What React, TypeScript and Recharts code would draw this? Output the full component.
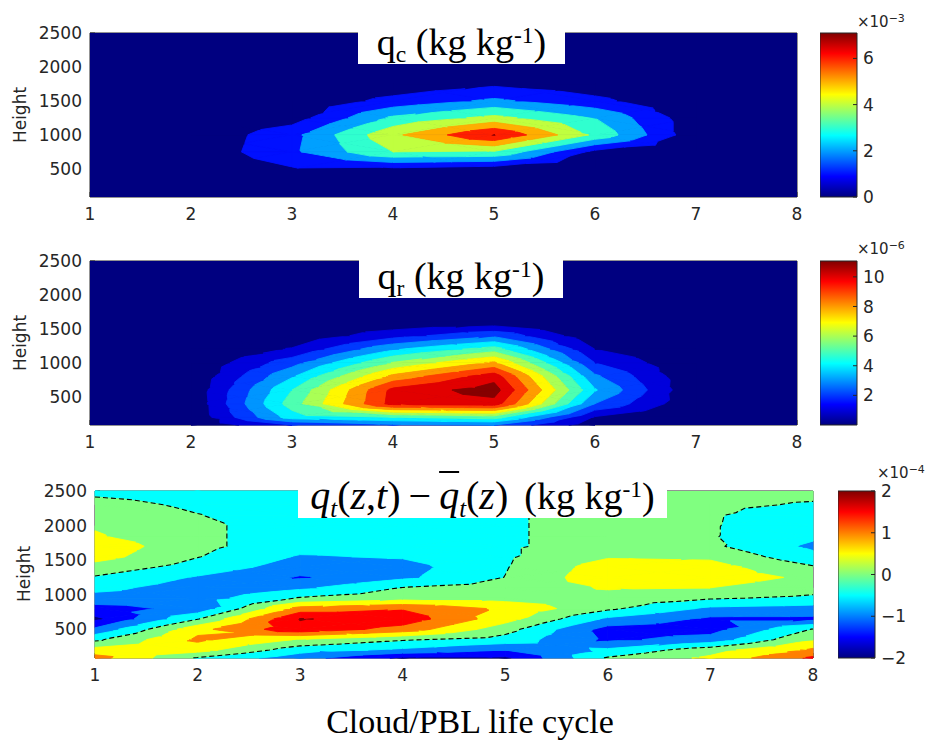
import React, { useMemo } from "react";
import { ScatterChart, Scatter, XAxis, YAxis, BarChart, Bar } from "recharts";

const lifeCycle = [1, 2, 3, 4, 5, 6, 7, 8];
const heightTicks = [500, 1000, 1500, 2000, 2500];
const heightDomain = [85, 2500];

// q_c (x1e-3 kg/kg): one row per height, one column per life-cycle stage
const qcHeights = [85, 250, 500, 750, 1000, 1250, 1500, 1750, 2000, 2250, 2500];
const qcGrid = [
  [0, 0, 0, 0, 0, 0, 0, 0],
  [0, 0, 0.2, 0.1, 0.1, 0, 0, 0],
  [0, 0.1, 0.9, 0.8, 0.5, 0.1, 0, 0],
  [0, 0.2, 1.8, 4.0, 3.9, 0.7, 0.1, 0],
  [0, 0.1, 1.7, 4.78, 7.05, 3.8, 0.3, 0],
  [0, 0, 0.5, 3.2, 4.3, 3.0, 0.3, 0],
  [0, 0, 0.2, 1.3, 2.2, 1.25, 0.1, 0],
  [0, 0, 0, 0.3, 0.8, 0.4, 0, 0],
  [0, 0, 0, 0, 0.1, 0, 0, 0],
  [0, 0, 0, 0, 0, 0, 0, 0],
  [0, 0, 0, 0, 0, 0, 0, 0],
];
const qcLevels = [0, 1, 2, 3, 4, 5, 6, 7];
const qcColorRange = [0, 7.1];
const qcColorTicks = [0, 2, 4, 6];

// q_r (x1e-6 kg/kg)
const qrHeights = [85, 200, 400, 600, 800, 1000, 1200, 1400, 1600, 1800, 2000, 2250, 2500];
const qrGrid = [
  [0, 0.1, 2.0, 2.8, 3.0, 0.3, 0.05, 0],
  [0, 0.1, 4.5, 5.0, 5.5, 0.9, 0.05, 0],
  [0, 0.14, 5.5, 10.4, 10.6, 3.0, 0.1, 0],
  [0, 0.2, 5.0, 10.3, 11.5, 4.1, 0.05, 0],
  [0, 0.1, 3.9, 8.3, 10.6, 3.2, 0.1, 0],
  [0, 0, 2.6, 6.1, 8.2, 2.0, 0.05, 0],
  [0, 0, 1.1, 3.9, 5.5, 1.0, 0, 0],
  [0, 0, 0.2, 1.6, 2.8, 0.2, 0, 0],
  [0, 0, 0, 0.2, 0.3, 0, 0, 0],
  [0, 0, 0, 0, 0, 0, 0, 0],
  [0, 0, 0, 0, 0, 0, 0, 0],
  [0, 0, 0, 0, 0, 0, 0, 0],
  [0, 0, 0, 0, 0, 0, 0, 0],
];
const qrLevels = [0, 1, 2, 3, 4, 5, 6, 7, 8, 9, 10, 11];
const qrColorRange = [0, 11.07];
const qrColorTicks = [2, 4, 6, 8, 10];

// q_t anomaly (x1e-4 kg/kg)
const qtHeights = [85, 200, 350, 500, 650, 800, 950, 1100, 1250, 1400, 1550, 1700, 1850, 2000, 2150, 2300, 2500];
const qtGrid = [
  [1.2, -0.05, -0.8, -1.6, -1.6, 0.05, 0.6, 1.6],
  [0.7, 0.7, -0.3, -0.6, -1.0, -0.4, 0.3, 1.1],
  [-0.1, 1.1, 0.45, 0.05, -0.2, -1.1, -0.8, 0.5],
  [-0.9, 0.85, 1.85, 1.3, 0.2, -1.2, -1.2, 0.03],
  [-1.6, -0.03, 2.03, 1.8, 0.7, -0.6, -1.1, -1.1],
  [-1.2, -0.85, 1.2, 1.45, 0.9, 0.1, -0.6, -0.7],
  [-0.7, -0.75, 0.05, 0.3, 0.3, 0.3, 0.05, -0.1],
  [-0.35, -0.75, -0.6, 0.02, 0.2, 0.55, 0.5, 0.2],
  [-0.05, -0.55, -1.05, -0.6, 0.01, 0.85, 0.75, 0.4],
  [0.3, -0.2, -0.75, -0.7, -0.03, 0.75, 0.7, 0.05],
  [0.7, 0.02, -0.55, -0.45, -0.06, 0.45, 0.4, -0.35],
  [0.85, 0.12, -0.3, -0.3, -0.06, 0.2, 0.1, -0.6],
  [0.55, 0.12, -0.3, -0.3, -0.06, 0.2, 0.04, -0.4],
  [0.45, 0.12, -0.3, -0.3, -0.06, 0.2, 0.04, -0.35],
  [0.35, 0.02, -0.3, -0.3, -0.06, 0.2, 0.05, -0.3],
  [0.2, -0.1, -0.3, -0.3, -0.06, 0.2, 0.1, -0.05],
  [-0.15, -0.25, -0.3, -0.3, -0.06, 0.2, 0.15, 0.15],
];
const qtLevels = [-2, -1.5, -1, -0.5, 0, 0.5, 1, 1.5, 2];
const qtColorRange = [-2, 2];
const qtColorTicks = [-2, -1, 0, 1, 2];

const axisColor = "#262626";
const tickFont = { fill: axisColor, fontSize: 17, fontFamily: "DejaVu Sans" };
const serif = "'Liberation Serif', 'Times New Roman', serif";

function jet(t: number) {
  const u = Math.max(0, Math.min(1, t));
  const ch = (v: number) => Math.round(255 * Math.max(0, Math.min(1, v)));
  return `rgb(${ch(1.5 - Math.abs(4 * u - 3))},${ch(1.5 - Math.abs(4 * u - 2))},${ch(1.5 - Math.abs(4 * u - 1))})`;
}

type V = [number, number, number];
type Piece = { pts: number[][]; color: string; line: boolean };

function clip(poly: V[], t: number, above: boolean): V[] {
  const out: V[] = [];
  for (let k = 0; k < poly.length; k++) {
    const P = poly[k];
    const Q = poly[(k + 1) % poly.length];
    const pin = above ? P[2] >= t : P[2] <= t;
    const qin = above ? Q[2] >= t : Q[2] <= t;
    if (pin) out.push(P);
    if (pin !== qin) {
      const f = (t - P[2]) / (Q[2] - P[2]);
      out.push([P[0] + f * (Q[0] - P[0]), P[1] + f * (Q[1] - P[1]), t]);
    }
  }
  return out;
}

// filled contours: split each grid cell into 4 triangles, clip each into level bands
function contourPieces(xs: number[], ys: number[], grid: number[][], levels: number[], range: number[], zeroLine: boolean) {
  const bands = levels.map((lo, k) => ({
    lo: k === 0 ? -Infinity : lo,
    hi: k === levels.length - 1 ? Infinity : levels[k + 1],
    color: jet((lo - range[0]) / (range[1] - range[0])),
  }));
  const pieces: Piece[] = [];
  // backdrop in the colour of the most common band hides seams between triangles
  const counts = bands.map(() => 0);
  grid.flat().forEach((v) => {
    const k = bands.findIndex((b) => v >= b.lo && v < b.hi);
    if (k >= 0) counts[k]++;
  });
  const common = bands[counts.indexOf(Math.max(...counts))];
  const x0 = xs[0], x1 = xs[xs.length - 1], y0 = ys[0], y1 = ys[ys.length - 1];
  pieces.push({ pts: [[x0, y0], [x1, y0], [x1, y1], [x0, y1]], color: common.color, line: false });

  const segs: { k1: string; k2: string }[] = [];
  const ptByKey = new Map<string, number[]>();

  for (let i = 0; i < ys.length - 1; i++) {
    for (let j = 0; j < xs.length - 1; j++) {
      const a: V = [xs[j], ys[i], grid[i][j]];
      const b: V = [xs[j + 1], ys[i], grid[i][j + 1]];
      const c: V = [xs[j + 1], ys[i + 1], grid[i + 1][j + 1]];
      const d: V = [xs[j], ys[i + 1], grid[i + 1][j]];
      const m: V = [(a[0] + b[0]) / 2, (a[1] + d[1]) / 2, (a[2] + b[2] + c[2] + d[2]) / 4];
      const id = [`${i},${j}`, `${i},${j + 1}`, `${i + 1},${j + 1}`, `${i + 1},${j}`, `m${i},${j}`];
      const tris: [V[], string[]][] = [
        [[a, b, m], [id[0], id[1], id[4]]],
        [[b, c, m], [id[1], id[2], id[4]]],
        [[c, d, m], [id[2], id[3], id[4]]],
        [[d, a, m], [id[3], id[0], id[4]]],
      ];
      for (const [tri, ids] of tris) {
        const vmin = Math.min(tri[0][2], tri[1][2], tri[2][2]);
        const vmax = Math.max(tri[0][2], tri[1][2], tri[2][2]);
        for (const band of bands) {
          if (vmax < band.lo || vmin > band.hi) continue;
          if (band === common && vmin >= band.lo && vmax < band.hi) continue;
          const poly = clip(clip(tri, band.lo, true), band.hi, false);
          if (poly.length >= 3) pieces.push({ pts: poly.map((p) => [p[0], p[1]]), color: band.color, line: false });
        }
        if (zeroLine) {
          const keys: string[] = [];
          for (let e = 0; e < 3; e++) {
            const P = tri[e];
            const Q = tri[(e + 1) % 3];
            if (P[2] < 0 !== Q[2] < 0) {
              const f = -P[2] / (Q[2] - P[2]);
              const key = [ids[e], ids[(e + 1) % 3]].sort().join("|");
              ptByKey.set(key, [P[0] + f * (Q[0] - P[0]), P[1] + f * (Q[1] - P[1])]);
              keys.push(key);
            }
          }
          if (keys.length === 2) segs.push({ k1: keys[0], k2: keys[1] });
        }
      }
    }
  }

  if (zeroLine) {
    const byKey = new Map<string, number[]>();
    segs.forEach((s, ix) => {
      [s.k1, s.k2].forEach((k) => {
        if (!byKey.has(k)) byKey.set(k, []);
        byKey.get(k)!.push(ix);
      });
    });
    const used = segs.map(() => false);
    const extend = (arr: string[]) => {
      for (;;) {
        const last = arr[arr.length - 1];
        const next = (byKey.get(last) || []).find((ix) => !used[ix]);
        if (next === undefined) break;
        used[next] = true;
        const s = segs[next];
        arr.push(s.k1 === last ? s.k2 : s.k1);
      }
    };
    segs.forEach((s, ix) => {
      if (used[ix]) return;
      used[ix] = true;
      const fwd = [s.k1, s.k2];
      extend(fwd);
      const back = [s.k1];
      extend(back);
      const chain = back.reverse().concat(fwd.slice(1));
      pieces.push({ pts: chain.map((k) => ptByKey.get(k)!), color: "#000", line: true });
    });
  }
  return pieces;
}

function drawPieces(props: any, pieces: Piece[]) {
  const pts = props.points || [];
  const fills: React.ReactNode[] = [];
  const lines: React.ReactNode[] = [];
  let k = 0;
  pieces.forEach((pc, idx) => {
    let d = "";
    pc.pts.forEach((_, i) => {
      const p = pts[k + i];
      if (p) d += (i ? "L" : "M") + p.x.toFixed(2) + "," + p.y.toFixed(2);
    });
    k += pc.pts.length;
    if (pc.line) {
      lines.push(<path key={idx} d={d} fill="none" stroke="#000" strokeWidth={1.1} strokeDasharray="5 3" />);
    } else {
      fills.push(<path key={idx} d={d + "Z"} fill={pc.color} stroke={pc.color} strokeWidth={idx === 0 ? 0 : 0.9} strokeLinejoin="round" />);
    }
  });
  return (
    <g>
      {fills}
      {lines}
    </g>
  );
}

function ContourPanel({ heights, grid, levels, range, zeroLine, plotLeft, plotTop, plotRight, plotBottom }: any) {
  const pieces = useMemo(() => contourPieces(lifeCycle, heights, grid, levels, range, zeroLine), []);
  const points = pieces.flatMap((pc) => pc.pts.map(([x, y]) => ({ x, y })));
  const plotHeight = plotBottom - plotTop;
  return (
    <div style={{ position: "absolute", left: 0, top: plotTop - 20 }}>
      <ScatterChart width={plotRight + 20} height={plotHeight + 60} margin={{ top: 0, right: 0, bottom: 0, left: 0 }}>
        <Scatter
          data={points}
          isAnimationActive={false}
          shape={() => <g />}
          line={(p: any) => drawPieces(p, pieces)}
          lineType="joint"
        />
        <XAxis
          type="number"
          dataKey="x"
          domain={[1, 8]}
          ticks={lifeCycle}
          height={40}
          tickSize={-5}
          tickMargin={16}
          stroke={axisColor}
          tick={tickFont}
          interval={0}
        />
        <XAxis xAxisId="top" orientation="top" type="number" dataKey="x" domain={[1, 8]} ticks={lifeCycle} height={20} tickSize={-5} tick={false} stroke={axisColor} />
        <YAxis
          type="number"
          dataKey="y"
          domain={heightDomain}
          ticks={heightTicks}
          width={plotLeft}
          tickSize={-5}
          tickMargin={13}
          stroke={axisColor}
          tick={tickFont}
          interval={0}
        />
        <YAxis yAxisId="right" orientation="right" type="number" dataKey="y" domain={heightDomain} ticks={heightTicks} width={20} tickSize={-5} tick={false} stroke={axisColor} />
      </ScatterChart>
    </div>
  );
}

const jetStops = [0, 0.125, 0.375, 0.625, 0.875, 1];

function ColorBar({ id, range, ticks, left, top, bottom, width }: any) {
  const barData = [{ name: "scale", span: range }];
  return (
    <div style={{ position: "absolute", left, top: top - 20 }}>
      <BarChart width={width + 45} height={bottom - top + 40} data={barData} margin={{ top: 20, right: 0, bottom: 20, left: 0 }} barCategoryGap={0}>
        <defs>
          <linearGradient id={id} x1="0" y1="1" x2="0" y2="0">
            {jetStops.map((o) => (
              <stop key={o} offset={o} stopColor={jet(o)} />
            ))}
          </linearGradient>
        </defs>
        <XAxis dataKey="name" hide />
        <YAxis
          orientation="right"
          type="number"
          domain={range}
          ticks={ticks}
          width={45}
          tickSize={-4}
          tickMargin={10}
          axisLine={false}
          stroke={axisColor}
          tick={{ ...tickFont, textAnchor: "start" }}
          interval={0}
          tickFormatter={(v: number) => (v < 0 ? `\u2212${-v}` : `${v}`)}
        />
        <Bar dataKey="span" fill={`url(#${id})`} stroke={axisColor} strokeWidth={1} isAnimationActive={false} />
      </BarChart>
    </div>
  );
}

function Multiplier({ left, baseline, exp }: any) {
  return (
    <div
      style={{
        position: "absolute",
        left,
        top: baseline - 13,
        whiteSpace: "nowrap",
        fontFamily: "DejaVu Sans",
        fontSize: 15,
        lineHeight: "15px",
        color: axisColor,
      }}
    >
      ×10<span style={{ fontSize: 11, verticalAlign: "0.45em" }}>{exp}</span>
    </div>
  );
}

function HeightLabel({ cx, cy }: any) {
  return (
    <div
      style={{
        position: "absolute",
        left: cx - 50,
        top: cy - 10,
        width: 100,
        height: 20,
        lineHeight: "20px",
        textAlign: "center",
        transform: "rotate(-90deg)",
        fontFamily: "DejaVu Sans",
        fontSize: 17,
        color: axisColor,
      }}
    >
      Height
    </div>
  );
}

const sub = { fontSize: "0.62em", verticalAlign: "-0.32em" };
const sup = { fontSize: "0.62em", verticalAlign: "0.5em" };
const it = { fontStyle: "italic" as const };

function TitleBox({ left, top, width, children }: any) {
  return (
    <div
      style={{
        position: "absolute",
        left,
        top,
        width,
        height: 44,
        background: "#fff",
        fontFamily: serif,
        fontSize: 38,
        lineHeight: "30px",
        textAlign: "center",
        whiteSpace: "nowrap",
        color: "#000",
      }}
    >
      {children}
    </div>
  );
}

export default function App() {
  return (
    <div style={{ position: "absolute", left: 0, top: 0, width: 928, height: 748, background: "#fff", overflow: "hidden" }}>
      <ContourPanel heights={qcHeights} grid={qcGrid} levels={qcLevels} range={qcColorRange} zeroLine={false} plotLeft={90} plotTop={33} plotRight={797} plotBottom={197} />
      <ContourPanel heights={qrHeights} grid={qrGrid} levels={qrLevels} range={qrColorRange} zeroLine={false} plotLeft={90} plotTop={261} plotRight={797} plotBottom={425} />
      <ContourPanel heights={qtHeights} grid={qtGrid} levels={qtLevels} range={qtColorRange} zeroLine={true} plotLeft={95} plotTop={491} plotRight={813} plotBottom={658} />

      <ColorBar id="jetA" range={qcColorRange} ticks={qcColorTicks} left={820} top={33} bottom={197} width={37} />
      <ColorBar id="jetB" range={qrColorRange} ticks={qrColorTicks} left={820} top={261} bottom={425} width={37} />
      <ColorBar id="jetC" range={qtColorRange} ticks={qtColorTicks} left={838} top={491} bottom={658} width={37} />

      <Multiplier left={857} baseline={24} exp={"\u22123"} />
      <Multiplier left={857} baseline={251} exp={"\u22126"} />
      <Multiplier left={877} baseline={475} exp={"\u22124"} />

      <HeightLabel cx={20} cy={115} />
      <HeightLabel cx={20} cy={343} />
      <HeightLabel cx={24} cy={574} />

      <TitleBox left={358} top={20} width={207}>
        q<span style={sub}>c</span> (kg kg<span style={sup}>-1</span>)
      </TitleBox>
      <TitleBox left={359} top={254} width={204}>
        q<span style={sub}>r</span> (kg kg<span style={sup}>-1</span>)
      </TitleBox>
      <TitleBox left={298} top={474} width={369}>
        <span style={{ fontSize: 40 }}>
          <span style={it}>q</span>
          <span style={{ ...sub, ...it }}>t</span>(<span style={it}>z</span>,<span style={it}>t</span>)
          {"\u2009\u2212\u2009"}
          <span style={{ ...it, textDecoration: "overline", textDecorationThickness: "2px" }}>q</span>
          <span style={{ ...sub, ...it }}>t</span>(<span style={it}>z</span>)
        </span>
        <span style={{ marginLeft: 16 }}>
          (kg kg<span style={sup}>-1</span>)
        </span>
      </TitleBox>

      <div
        style={{
          position: "absolute",
          left: 270,
          top: 705,
          width: 400,
          textAlign: "center",
          fontFamily: serif,
          fontSize: 34,
          lineHeight: "34px",
          color: "#000",
        }}
      >
        Cloud/PBL life cycle
      </div>
    </div>
  );
}
